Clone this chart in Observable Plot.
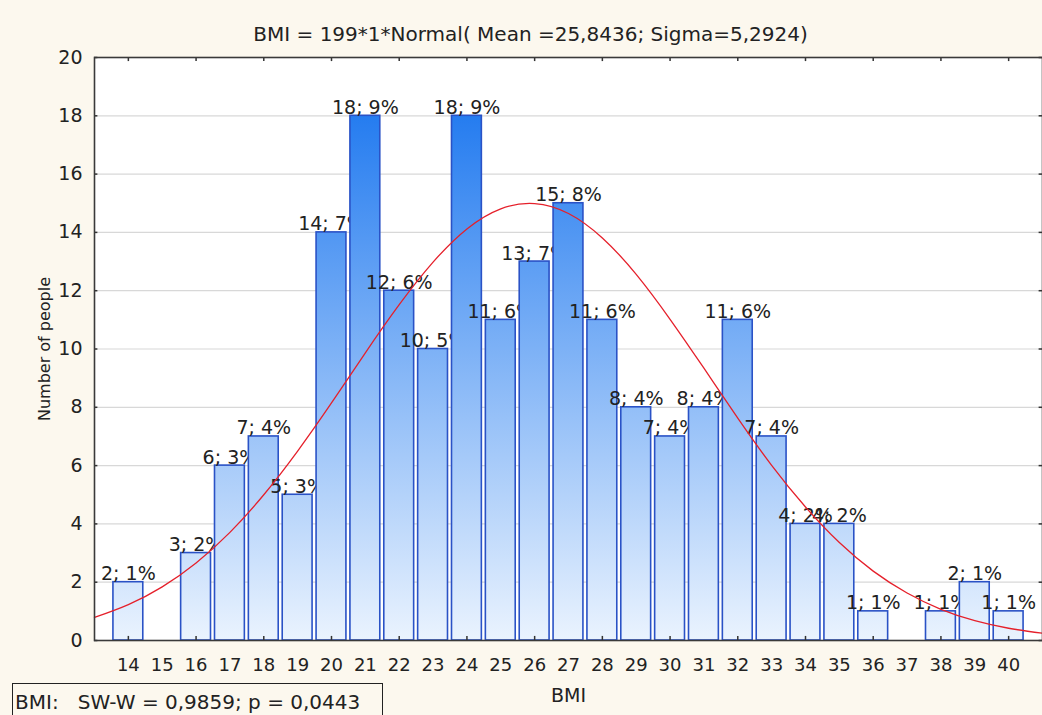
<!DOCTYPE html>
<html><head><meta charset="utf-8">
<script src="https://cdn.jsdelivr.net/npm/d3@7"></script>
<script src="https://cdn.jsdelivr.net/npm/@observablehq/plot@0.6"></script>
<style>
html,body{margin:0;padding:0;background:#fcf8ee;overflow:hidden;width:1042px;height:715px;}
#chart{position:relative;width:1042px;height:715px;}
#stats{position:absolute;left:12px;top:683px;width:371px;height:40px;border:1px solid #222;box-sizing:border-box;font:20px "DejaVu Sans",sans-serif;color:#222;padding:6px 0 0 2px;white-space:pre;}
</style></head><body>
<div id="chart"><div id="stats"></div></div>
<script>
// ---- data ----
const bmi     = [14,16,17,18,19,20,21,22,23,24,25,26,27,28,29,30,31,32,33,34,35,36,38,39,40];
const counts  = [ 2, 3, 6, 7, 5,14,18,12,10,18,11,13,15,11, 8, 7, 8,11, 7, 4, 4, 1, 1, 2, 1];
const percents= [ 1, 2, 3, 4, 3, 7, 9, 6, 5, 9, 6, 7, 8, 6, 4, 4, 4, 6, 4, 2, 2, 1, 1, 1, 1];
// fitted normal curve
const curveX = [13,14,15,16,17,18,19,20,21,22,23,24,25,26,27,28,29,30,31,32,33,34,35,36,37,38,39,40,41];
const curveY = [0.79,1.23,1.84,2.66,3.71,5.00,6.50,8.15,9.87,11.52,12.98,14.12,14.81,14.99,14.65,13.81,12.56,11.02,9.34,7.63,6.01,4.58,3.36,2.38,1.63,1.07,0.68,0.42,0.25];
const xTickLabels = [14,15,16,17,18,19,20,21,22,23,24,25,26,27,28,29,30,31,32,33,34,35,36,37,38,39,40];
const xTickMarks  = [14,16,18,20,22,24,26,28,30,32,34,36,38,40];
const yTicks      = [0,2,4,6,8,10,12,14,16,18,20];
const titleText = "BMI = 199*1*Normal( Mean =25,8436; Sigma=5,2924)";
const xTitle = "BMI";
const yTitle = "Number of people";
const statsText = "BMI:   SW-W = 0,9859; p = 0,0443";

const bars = bmi.map((b, i) => ({bmi: b, count: counts[i], label: `${counts[i]}; ${percents[i]}%`}));
const curve = curveX.map((x, i) => ({x, y: curveY[i]}));

const font = "DejaVu Sans, sans-serif";

const chart = Plot.plot({
  width: 1042,
  height: 715,
  marginLeft: 94,
  marginRight: 0,
  marginTop: 57,
  marginBottom: 75,
  style: {background: "transparent", fontFamily: font, color: "#222", overflow: "visible"},
  x: {domain: [13, 41]},
  y: {domain: [0, 20]},
  marks: [
    Plot.frame({fill: "white", stroke: null}),
    Plot.ruleY(yTicks.filter(t => t > 0 && t < 20), {y: d => d, stroke: "#d8d8d8", strokeWidth: 1.2}),
    ...bars.flatMap(d => [
      Plot.rect([d], {x1: e => e.bmi - 0.5, x2: e => e.bmi + 0.5, y1: 0, y2: "count",
        fill: "url(#barGrad)", stroke: "#2a52c6", strokeWidth: 1.6, insetLeft: 2, insetRight: 2}),
      Plot.text([d], {x: "bmi", y: "count", text: "label", lineAnchor: "bottom", dy: -2,
        fontSize: 19, fill: "#222"})
    ]),
    Plot.line(curve, {x: "x", y: "y", curve: "natural", stroke: "#e5202b", strokeWidth: 1.3}),
    // inward tick marks
    Plot.ruleX(xTickMarks, {x: d => d, y1: 0, y2: 0.14, stroke: "#333", strokeWidth: 1.5}),
    Plot.ruleX(xTickMarks, {x: d => d, y1: 20, y2: 19.86, stroke: "#333", strokeWidth: 1.5}),
    Plot.ruleY(yTicks, {y: d => d, x1: 13, x2: 13.1, stroke: "#333", strokeWidth: 1.5}),
    Plot.ruleY(yTicks, {y: d => d, x1: 40.9, x2: 41, stroke: "#333", strokeWidth: 1.5}),
    Plot.frame({stroke: "#3a3a3a", strokeWidth: 1.6}),
    Plot.axisY({ticks: yTicks, tickSize: 0, tickPadding: 12, fontSize: 19, label: null}),
    Plot.axisX({ticks: xTickLabels, tickSize: 0, tickPadding: 18, fontSize: 18, label: null, tickFormat: d => String(d)}),
    Plot.text([yTitle], {text: d => d, frameAnchor: "left", textAnchor: "middle", rotate: -90, dx: -50, fontSize: 16, fill: "#222"}),
    Plot.text([xTitle], {text: d => d, frameAnchor: "bottom", dy: 61, fontSize: 19, fill: "#222"}),
    Plot.text([titleText], {text: d => d, frameAnchor: "top", dy: -31, dx: -38, fontSize: 20, fill: "#222"})
  ]
});

// gradient fill for the bars, spanning the plot area
const ys = chart.scale("y");
const grad = d3.select(chart).insert("defs", ":first-child")
  .append("linearGradient")
  .attr("id", "barGrad")
  .attr("gradientUnits", "userSpaceOnUse")
  .attr("x1", 0).attr("x2", 0)
  .attr("y1", ys.apply(20)).attr("y2", ys.apply(0));
grad.append("stop").attr("offset", "0%").attr("stop-color", "#0f6fee");
grad.append("stop").attr("offset", "100%").attr("stop-color", "#eaf3fe");

const holder = document.getElementById("chart");
holder.insertBefore(chart, holder.firstChild);
chart.style.position = "absolute";
chart.style.left = "0";
chart.style.top = "0";
document.getElementById("stats").textContent = statsText;
</script>
</body></html>
